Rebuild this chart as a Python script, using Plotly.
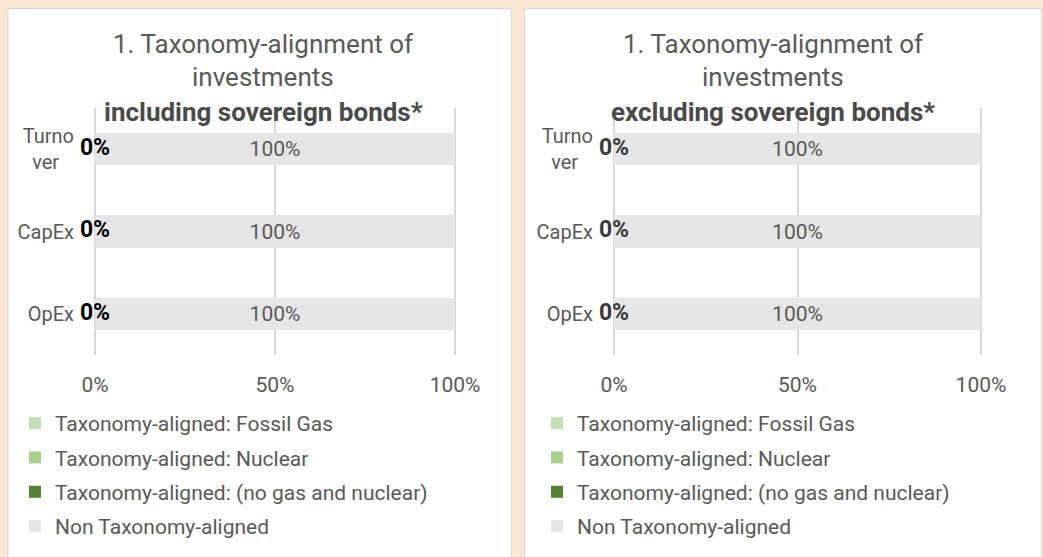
import plotly.graph_objects as go

W, H = 1043, 557

# Categories (bottom-to-top order handled by a reversed axis)
categories = ["Turnover", "CapEx", "OpEx"]
category_labels = ["Turno<br>ver\u00a0\u00a0\u00a0", "CapEx", "OpEx"]

series_names = [
    "Taxonomy-aligned: Fossil Gas",
    "Taxonomy-aligned: Nuclear",
    "Taxonomy-aligned: (no gas and nuclear)",
    "Non Taxonomy-aligned",
]
series_colors = ["#c5e0b4", "#a9d18e", "#548235", "#e6e6e6"]

# Panel 1: including sovereign bonds (%)
incl_fossil_gas = [0, 0, 0]
incl_nuclear = [0, 0, 0]
incl_aligned_other = [0, 0, 0]
incl_non_aligned = [100, 100, 100]

# Panel 2: excluding sovereign bonds (%)
excl_fossil_gas = [0, 0, 0]
excl_nuclear = [0, 0, 0]
excl_aligned_other = [0, 0, 0]
excl_non_aligned = [100, 100, 100]

x_tick_values = [0, 50, 100]
x_tick_labels = ["0%", "50%", "100%"]

title_line1 = "1. Taxonomy-alignment of"
title_line2 = "investments"
subtitle_incl = "including sovereign bonds*"
subtitle_excl = "excluding sovereign bonds*"

FONT = "Roboto"
GREY = "#595959"


def px(x):
    return x / W


def py(y):
    return 1 - y / H


fig = go.Figure()


def add_panel(series, xa, ya, legend_name, zero_label_color):
    for i, (name, color, vals) in enumerate(zip(series_names, series_colors, series)):
        is_last = i == len(series) - 1
        fig.add_trace(go.Bar(
            x=vals, y=categories, orientation="h",
            name=name, marker=dict(color=color, line=dict(width=0)),
            xaxis=xa, yaxis=ya,
            legend=legend_name, legendgroup=f"{legend_name}-{i}",
            texttemplate="%{x:.0f}%" if is_last else None,
            textposition="inside" if is_last else "none",
            insidetextanchor="middle", textangle=0,
            textfont=dict(family=FONT, size=21, color=GREY),
            hoverinfo="skip",
        ))
    # value labels for the taxonomy-aligned segment, placed at its centre
    base = [a + b for a, b in zip(series[0], series[1])]
    aligned = series[2]
    fig.add_trace(go.Scatter(
        x=[b + v / 2 for b, v in zip(base, aligned)], y=categories,
        mode="text", text=[f"<b>{v:.0f}%</b>" for v in aligned],
        textposition="middle center",
        textfont=dict(family=FONT, size=23, color=zero_label_color),
        xaxis=xa, yaxis=ya, showlegend=False, cliponaxis=False, hoverinfo="skip",
    ))


add_panel([incl_fossil_gas, incl_nuclear, incl_aligned_other, incl_non_aligned],
          "x", "y", "legend", "#000000")
add_panel([excl_fossil_gas, excl_nuclear, excl_aligned_other, excl_non_aligned],
          "x2", "y2", "legend2", "#3a3a3a")

# a small pad beyond 0-100 keeps the end gridlines inside the plot area
xaxis_common = dict(
    range=[-0.55, 100.55], tickvals=x_tick_values, ticktext=x_tick_labels,
    showgrid=True, gridcolor="#d9d9d9", gridwidth=2,
    zeroline=False, showline=False, ticks="", automargin=False,
    tickfont=dict(family=FONT, size=21, color=GREY),
    ticklabelstandoff=15, fixedrange=True,
)
yaxis_common = dict(
    range=[2.5, -0.5], tickvals=categories, ticktext=category_labels,
    showgrid=False, zeroline=False, showline=False, ticks="", automargin=False,
    tickfont=dict(family=FONT, size=20, color=GREY),
    ticklabelstandoff=18, fixedrange=True,
)

y_dom = [py(355), py(108)]

legend_common = dict(
    orientation="v", yanchor="top", xanchor="left",
    font=dict(family=FONT, size=21, color=GREY),
    bgcolor="rgba(0,0,0,0)", borderwidth=0, tracegroupgap=4,
    traceorder="grouped", itemclick=False, itemdoubleclick=False,
)

fig.update_layout(
    width=W, height=H,
    margin=dict(l=0, r=0, t=0, b=0, autoexpand=False),
    paper_bgcolor="#fbe6d4", plot_bgcolor="rgba(0,0,0,0)",
    barmode="stack", bargap=0.61,
    font=dict(family=FONT, color=GREY),
    xaxis=dict(domain=[px(93), px(457)], anchor="y", **xaxis_common),
    yaxis=dict(domain=y_dom, anchor="x", **yaxis_common),
    xaxis2=dict(domain=[px(612), px(983)], anchor="y2", **xaxis_common),
    yaxis2=dict(domain=y_dom, anchor="x2", **yaxis_common),
    legend=dict(x=px(15), y=py(403), **legend_common),
    legend2=dict(x=px(537), y=py(403), **legend_common),
    shapes=[
        dict(type="rect", xref="paper", yref="paper", layer="below",
             x0=px(8), x1=px(511), y0=py(560), y1=py(8.5),
             fillcolor="white", line=dict(color="#d9d9d9", width=1)),
        dict(type="rect", xref="paper", yref="paper", layer="below",
             x0=px(524.5), x1=px(1041.5), y0=py(560), y1=py(8.5),
             fillcolor="white", line=dict(color="#d9d9d9", width=1)),
    ],
)

# Panel titles
for cx, sub in [(263, subtitle_incl), (773, subtitle_excl)]:
    for text, cy, color in [
        (title_line1, 44, GREY),
        (title_line2, 77, GREY),
        (f"<b>{sub}</b>", 112, "#4a4a4a"),
    ]:
        fig.add_annotation(
            text=text, xref="paper", yref="paper", x=px(cx), y=py(cy),
            xanchor="center", yanchor="middle", showarrow=False,
            font=dict(family=FONT, size=26, color=color),
        )

fig.write_html("out.html")
